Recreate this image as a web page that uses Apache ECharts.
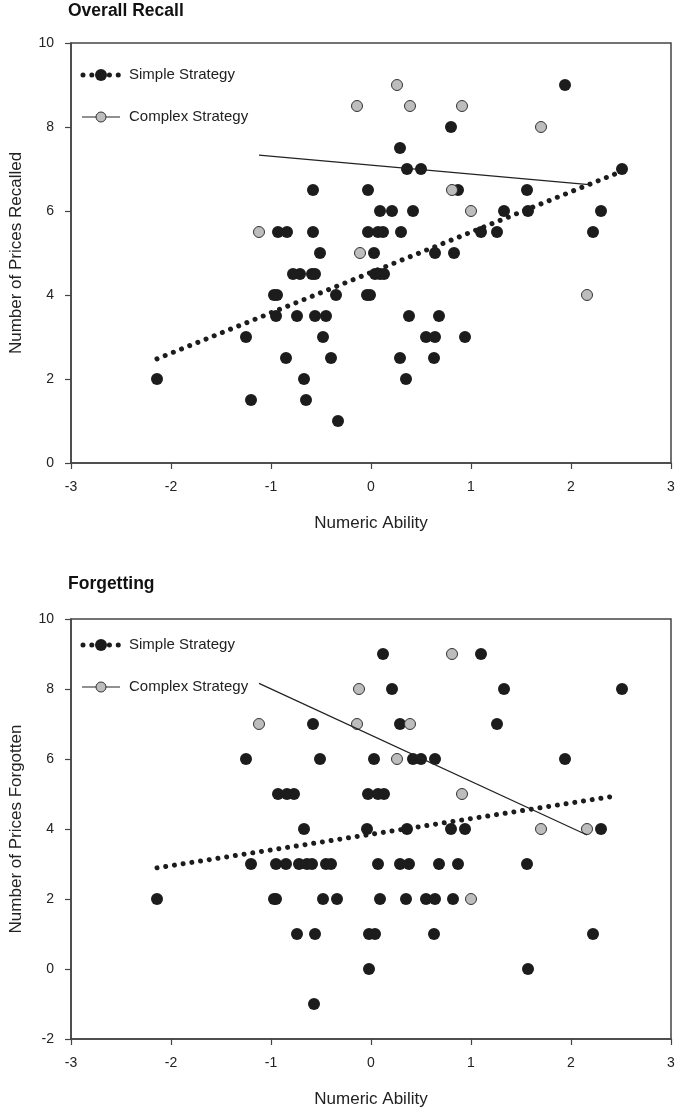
<!DOCTYPE html>
<html>
<head>
<meta charset="utf-8">
<script src="https://cdn.jsdelivr.net/npm/echarts@6/dist/echarts.min.js"></script>
<style>
html,body{margin:0;padding:0;background:#fff;}
#chart{width:679px;height:1113px;}
</style>
</head>
<body>
<div id="chart"></div>
<script>
// ---- Data ----
const titles = ['Overall Recall', 'Forgetting'];
const yNames = ['Number of Prices Recalled', 'Number of Prices Forgotten'];
const xName = 'Numeric Ability';
const legendNames = ['Simple Strategy', 'Complex Strategy'];

const recallSimple = [
  [-2.14,2.0],[-1.25,3.0],[-1.20,1.5],[-0.97,4.0],[-0.94,4.0],[-0.95,3.5],[-0.93,5.5],[-0.84,5.5],
  [-0.85,2.5],[-0.78,4.5],[-0.71,4.5],[-0.74,3.5],[-0.67,2.0],[-0.65,1.5],[-0.59,4.5],[-0.56,4.5],
  [-0.58,6.5],[-0.58,5.5],[-0.56,3.5],[-0.51,5.0],[-0.48,3.0],[-0.45,3.5],[-0.40,2.5],[-0.35,4.0],
  [-0.33,1.0],[-0.04,4.0],[-0.01,4.0],[-0.03,6.5],[-0.03,5.5],[0.03,5.0],[0.04,4.5],[0.09,4.5],
  [0.13,4.5],[0.07,5.5],[0.12,5.5],[0.09,6.0],[0.21,6.0],[0.29,7.5],[0.36,7.0],[0.50,7.0],
  [0.42,6.0],[0.30,5.5],[0.29,2.5],[0.35,2.0],[0.38,3.5],[0.55,3.0],[0.64,3.0],[0.63,2.5],
  [0.68,3.5],[0.64,5.0],[0.83,5.0],[0.80,8.0],[0.87,6.5],[0.94,3.0],[1.10,5.5],[1.26,5.5],
  [1.33,6.0],[1.56,6.5],[1.57,6.0],[1.94,9.0],[2.22,5.5],[2.30,6.0],[2.51,7.0]
];
const recallComplex = [
  [-1.12,5.5],[-0.14,8.5],[-0.11,5.0],[0.26,9.0],[0.39,8.5],[0.91,8.5],[1.70,8.0],[0.81,6.5],
  [1.00,6.0],[2.16,4.0]
];
const recallSimpleFit = [[-2.14,2.48],[2.46,6.90]];
const recallComplexFit = [[-1.12,7.33],[2.18,6.63]];

const forgetSimple = [
  [-2.14,2],[-1.25,6],[-1.20,3],[-0.97,2],[-0.95,2],[-0.95,3],[-0.93,5],[-0.85,3],[-0.84,5],
  [-0.77,5],[-0.74,1],[-0.72,3],[-0.67,4],[-0.64,3],[-0.59,3],[-0.58,7],[-0.56,1],[-0.57,-1],
  [-0.51,6],[-0.48,2],[-0.45,3],[-0.40,3],[-0.34,2],[-0.04,4],[-0.03,5],[-0.02,1],[-0.02,0],
  [0.03,6],[0.04,1],[0.07,5],[0.13,5],[0.07,3],[0.09,2],[0.12,9],[0.21,8],[0.29,7],[0.29,3],
  [0.35,2],[0.36,4],[0.38,3],[0.42,6],[0.50,6],[0.55,2],[0.63,1],[0.64,2],[0.64,6],[0.68,3],
  [0.80,4],[0.82,2],[0.87,3],[0.94,4],[1.10,9],[1.26,7],[1.33,8],[1.56,3],[1.57,0],[1.94,6],
  [2.22,1],[2.30,4],[2.51,8]
];
const forgetComplex = [
  [-1.12,7],[-0.14,7],[-0.12,8],[0.26,6],[0.39,7],[0.81,9],[0.91,5],[1.00,2],[1.70,4],[2.16,4]
];
const forgetSimpleFit = [[-2.14,2.89],[2.46,4.95]];
const forgetComplexFit = [[-1.12,8.16],[2.16,3.83]];

// ---- Styling ----
const FONT = "'Liberation Sans', Arial, sans-serif";
const AXC = '#444';
const BLACK = '#1c1c1c';
const GRAY = '#bdbdbd';

function xAxisFor(gi){
  return {
    gridIndex: gi, type: 'value', min: -3, max: 3, interval: 1,
    name: xName, nameLocation: 'middle', nameGap: 52,
    nameTextStyle: {fontFamily: FONT, fontSize: 17, color: '#222'},
    axisLine: {show: true, onZero: false, lineStyle: {color: AXC, width: 1.5}},
    axisTick: {show: true, inside: false, length: 6, lineStyle: {color: AXC, width: 1.2}},
    axisLabel: {fontFamily: FONT, fontSize: 14, color: '#222', margin: 17},
    splitLine: {show: false}
  };
}
function yAxisFor(gi, min, name){
  return {
    gridIndex: gi, type: 'value', min: min, max: 10, interval: 2,
    name: name, nameLocation: 'middle', nameGap: 46, nameRotate: 90,
    nameTextStyle: {fontFamily: FONT, fontSize: 17, color: '#222'},
    axisLine: {show: true, onZero: false, lineStyle: {color: AXC, width: 1.5}},
    axisTick: {show: true, inside: false, length: 6, lineStyle: {color: AXC, width: 1.2}},
    axisLabel: {fontFamily: FONT, fontSize: 14, color: '#222', margin: 17},
    splitLine: {show: false}
  };
}
function scatterS(gi, data, fill, border){
  return {
    type: 'scatter', xAxisIndex: gi, yAxisIndex: gi, data: data,
    symbol: 'circle', symbolSize: border ? 11 : 12,
    itemStyle: {color: fill, borderColor: border || fill, borderWidth: border ? 1 : 0, opacity: 1},
    emphasis: {disabled: true}, z: 3
  };
}
function dottedS(gi, data){
  return {
    type: 'line', xAxisIndex: gi, yAxisIndex: gi, data: data, showSymbol: false, symbol: 'none',
    lineStyle: {color: BLACK, width: 5, type: [0.01, 8.8], cap: 'round'},
    emphasis: {disabled: true}, z: 4, silent: true
  };
}
function solidS(gi, data){
  return {
    type: 'line', xAxisIndex: gi, yAxisIndex: gi, data: data, showSymbol: false, symbol: 'none',
    lineStyle: {color: '#222', width: 1.2, type: 'solid'},
    emphasis: {disabled: true}, z: 4, silent: true
  };
}

function legendGroup(y1, y2){
  const t = {fontFamily: FONT, fontSize: 15, fill: '#222', verticalAlign: 'middle'};
  return [
    {type: 'line', shape: {x1: 83, y1: y1, x2: 119, y2: y1},
     style: {stroke: BLACK, lineWidth: 5, lineDash: [0.01, 8.8], lineCap: 'round'}},
    {type: 'circle', shape: {cx: 101, cy: y1, r: 6}, style: {fill: BLACK}},
    {type: 'text', x: 129, y: y1, style: Object.assign({text: legendNames[0]}, t)},
    {type: 'line', shape: {x1: 82, y1: y2, x2: 120, y2: y2},
     style: {stroke: '#222', lineWidth: 1.2}},
    {type: 'circle', shape: {cx: 101, cy: y2, r: 5}, style: {fill: GRAY, stroke: '#333', lineWidth: 1}},
    {type: 'text', x: 129, y: y2, style: Object.assign({text: legendNames[1]}, t)}
  ];
}

const chart = echarts.init(document.getElementById('chart'), null, {renderer: 'canvas'});
chart.setOption({
  animation: false,
  backgroundColor: '#fff',
  title: [
    {text: titles[0], left: 68, top: 2, padding: 0, textStyle: {fontFamily: FONT, fontSize: 17.5, fontWeight: 'bold', color: '#111'}},
    {text: titles[1], left: 68, top: 575, padding: 0, textStyle: {fontFamily: FONT, fontSize: 17.5, fontWeight: 'bold', color: '#111'}}
  ],
  grid: [
    {left: 71, top: 43, width: 600, height: 420, show: true, borderColor: AXC, borderWidth: 1.5,
     backgroundColor: 'transparent', containLabel: false, outerBoundsMode: 'none'},
    {left: 71, top: 619, width: 600, height: 420, show: true, borderColor: AXC, borderWidth: 1.5,
     backgroundColor: 'transparent', containLabel: false, outerBoundsMode: 'none'}
  ],
  xAxis: [xAxisFor(0), xAxisFor(1)],
  yAxis: [yAxisFor(0, 0, yNames[0]), yAxisFor(1, -2, yNames[1])],
  series: [
    scatterS(0, recallSimple, BLACK, null),
    scatterS(0, recallComplex, GRAY, '#333'),
    dottedS(0, recallSimpleFit),
    solidS(0, recallComplexFit),
    scatterS(1, forgetSimple, BLACK, null),
    scatterS(1, forgetComplex, GRAY, '#333'),
    dottedS(1, forgetSimpleFit),
    solidS(1, forgetComplexFit)
  ],
  graphic: legendGroup(75, 117).concat(legendGroup(645, 687))
});
</script>
</body>
</html>
